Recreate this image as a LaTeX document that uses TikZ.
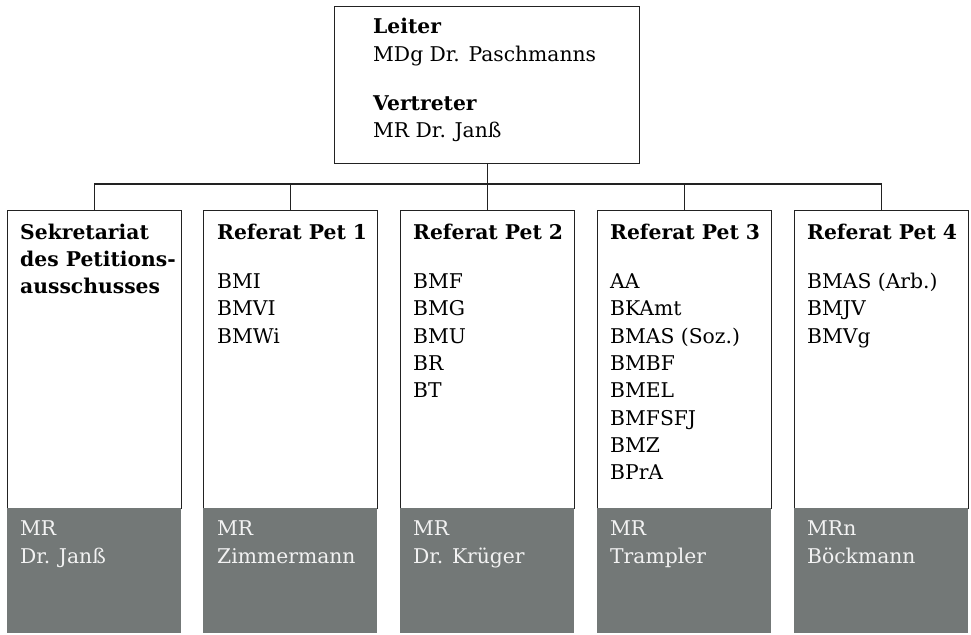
\documentclass[tikz,border=0pt]{standalone}
\usepackage{fontspec}
\setmainfont{DejaVu Serif}
\definecolor{panelgray}{HTML}{737877}
\definecolor{linecol}{HTML}{222222}
\definecolor{lighttext}{HTML}{F2F2F2}
\newcommand{\topstrut}{\rule{0pt}{16pt}}
\begin{document}
\begin{tikzpicture}[x=1pt,y=-1pt,
  box/.style={draw=linecol,line width=1.1pt,fill=white,inner sep=0pt,anchor=north west},
  graybox/.style={fill=panelgray,inner sep=0pt,anchor=north west,minimum width=174pt,minimum height=125pt},
  refbox/.style={box,minimum width=174pt,minimum height=298pt},
  txt/.style={inner sep=0pt,anchor=north west,align=left,font=\fontsize{20.3}{27.3}\selectfont,text=black},
  wtxt/.style={txt,text=lighttext},
  conn/.style={draw=linecol,line width=1.1pt}
]
\useasboundingbox (0,0) rectangle (971,634);

% top box
\node[box,minimum width=305pt,minimum height=157pt] (leiter) at (334,6) {};
\node[txt] (leitertxt) at (373,17.5) {\topstrut\textbf{Leiter}\\MDg Dr. Paschmanns\\[22pt]\textbf{Vertreter}\\MR Dr. Janß};

% lower boxes
\foreach \n/\x in {1/7,2/203,3/400,4/597,5/794}{
  \node[refbox] (b\n) at (\x,210) {};
  \node[graybox] (g\n) at (\x,508) {};
}

\coordinate (bus) at (487,184);

% headers and lists
\node[txt] (h1) at (20,223) {\topstrut\textbf{Sekretariat}\\\textbf{des Petitions-}\\\textbf{ausschusses}};
\node[txt] (h2) at (217,223) {\topstrut\textbf{Referat Pet 1}\\[22pt]BMI\\BMVI\\BMWi};
\node[txt] (h3) at (413,223) {\topstrut\textbf{Referat Pet 2}\\[22pt]BMF\\BMG\\BMU\\BR\\BT};
\node[txt] (h4) at (610,223) {\topstrut\textbf{Referat Pet 3}\\[22pt]AA\\BKAmt\\BMAS (Soz.)\\BMBF\\BMEL\\BMFSFJ\\BMZ\\BPrA};
\node[txt] (h5) at (807,223) {\topstrut\textbf{Referat Pet 4}\\[22pt]BMAS (Arb.)\\BMJV\\BMVg};

% names in gray panels
\node[wtxt] (n1) at (20,519.5) {\topstrut MR\\Dr. Janß};
\node[wtxt] (n2) at (217,519.5) {\topstrut MR\\Zimmermann};
\node[wtxt] (n3) at (413,519.5) {\topstrut MR\\Dr. Krüger};
\node[wtxt] (n4) at (610,519.5) {\topstrut MR\\Trampler};
\node[wtxt] (n5) at (807,519.5) {\topstrut MRn\\Böckmann};

% connectors
\draw[conn] (leiter.south) -- (leiter.south |- bus);
\draw[conn] (b1.north) -- (b1.north |- bus) -- (b5.north |- bus) -- (b5.north);
\draw[conn] (b2.north) -- (b2.north |- bus);
\draw[conn] (b3.north) -- (b3.north |- bus);
\draw[conn] (b4.north) -- (b4.north |- bus);
\end{tikzpicture}
\end{document}
